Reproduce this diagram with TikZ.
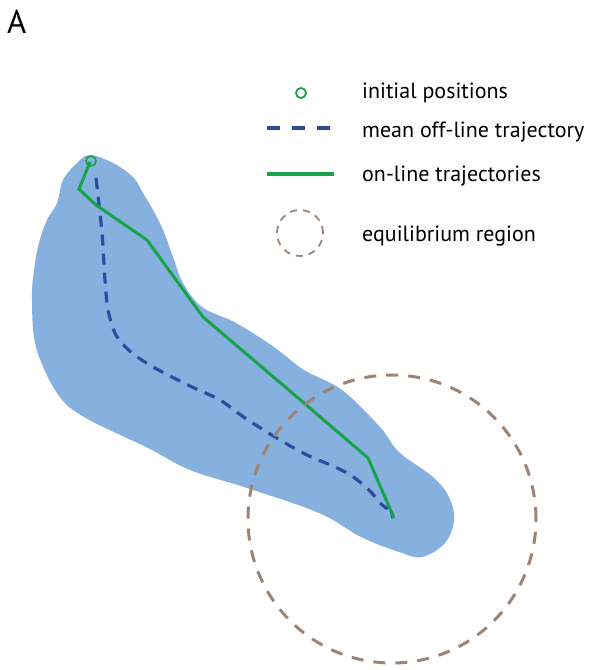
\documentclass[tikz,border=0pt]{standalone}
\usepackage{fontspec}
\setmainfont{PT Sans}
\definecolor{blobblue}{HTML}{86B0DE}
\definecolor{trgreen}{HTML}{16A34A}
\definecolor{trblue}{HTML}{2E4BA0}
\definecolor{eqbrown}{HTML}{9C8576}
\begin{document}
\begin{tikzpicture}[x=1pt,y=-1pt,
  legtext/.style={anchor=base west,inner sep=0pt,font=\fontsize{22}{24}\selectfont},
  ontraj/.style={draw=trgreen,line width=3pt,line join=miter},
  offtraj/.style={draw=trblue,line width=3.2pt,dash pattern=on 11pt off 8pt},
  eqreg/.style={draw=eqbrown,line width=3pt,dash pattern=on 12pt off 10pt}]
\useasboundingbox (0,0) rectangle (589,670);
% panel label
\node[anchor=base west,inner sep=0pt,font=\fontsize{33}{36}\selectfont] (lab) at (7,33) {A};
% blob
\fill[blobblue] plot[smooth cycle,tension=0.6] coordinates {
 (90,155) (113,163) (133,177) (143,193) (153,210) (163,230) (173,257) (183,283)
 (202,307) (236,323) (274,347) (304,370) (342,390) (380,427) (399,452) (433,477)
 (449,497) (454,520) (445,543) (422,557) (399,552) (361,537) (319,513) (247,488)
 (190,470) (148,448) (84,417) (57,393) (36,347) (32,300) (34,270) (39,243)
 (47,220) (57,203) (63,180) (77,163)};
% mean off-line trajectory
\draw[offtraj] plot[smooth,tension=0.5] coordinates {
 (96,178) (102,233) (105,280) (108,310) (116,335) (132,353) (155,368) (190,386)
 (220,400) (245,418) (275,437) (305,454) (335,467) (352,476) (369,490) (380,503)}
 -- (386,508) -- (390,506) -- (393,518);
% on-line trajectory
\draw[ontraj] (90,162) -- (79,189) -- (96,205) -- (147,240) -- (203,317)
 -- (304,403) -- (368,458) -- (394,518);
\node[draw=trgreen,line width=1.6pt,circle,minimum size=10pt,inner sep=0pt] (init) at (91,161) {};
% equilibrium region
\node[eqreg,circle,minimum size=288pt,inner sep=0pt] (eq) at (392,519) {};
% legend
\node[draw=trgreen,line width=1.8pt,circle,minimum size=10pt,inner sep=0pt] (l1m) at (301,93) {};
\node[legtext] (l1) at (362,98) {initial positions};
\coordinate (l2a) at (267,128); \coordinate (l2b) at (331,128);
\draw[draw=trblue,line width=4pt,dash pattern=on 13pt off 12pt] (l2a) -- (l2b);
\node[legtext] (l2) at (362,137) {mean off-line trajectory};
\coordinate (l3a) at (267,174); \coordinate (l3b) at (334,174);
\draw[draw=trgreen,line width=4pt] (l3a) -- (l3b);
\node[legtext] (l3) at (362,181) {on-line trajectories};
\node[draw=eqbrown,line width=1.8pt,dash pattern=on 7pt off 6pt,circle,minimum size=46pt,inner sep=0pt] (l4m) at (300,233) {};
\node[legtext] (l4) at (362,241) {equilibrium region};
\end{tikzpicture}
\end{document}
